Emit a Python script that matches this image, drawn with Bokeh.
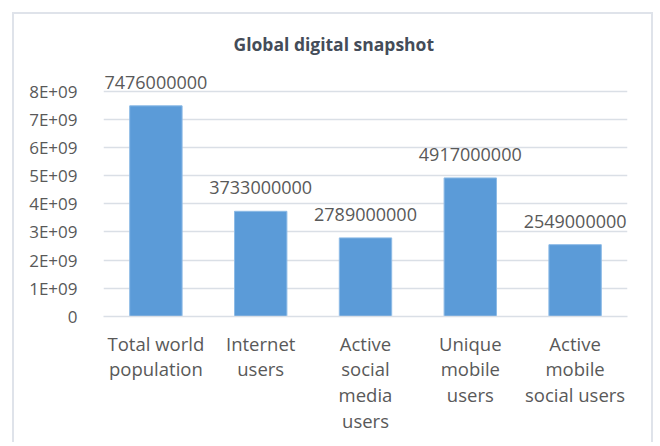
from bokeh.plotting import figure
from bokeh.models import ColumnDataSource, FactorRange, FixedTicker, LabelSet, Title
from bokeh.core.properties import value
from bokeh.embed import file_html
from bokeh.resources import INLINE

# ---- data ----
categories = ["Total world\npopulation", "Internet\nusers", "Active\nsocial\nmedia\nusers",
              "Unique\nmobile\nusers", "Active\nmobile\nsocial users"]
values = [7476000000, 3733000000, 2789000000, 4917000000, 2549000000]
value_labels = [str(v) for v in values]
y_ticks = [0, 1000000000, 2000000000, 3000000000, 4000000000,
           5000000000, 6000000000, 7000000000, 8000000000]
y_tick_labels = ["0", "1E+09", "2E+09", "3E+09", "4E+09", "5E+09", "6E+09", "7E+09", "8E+09"]
title_text = "Global digital snapshot"

FONT = "Open Sans"
TXT = "#595959"
GRID = "#dadfe6"

src = ColumnDataSource(dict(cat=categories, val=values, lab=value_labels))

p = figure(width=641, height=430, output_backend="svg", toolbar_location=None,
           x_range=FactorRange(*categories, range_padding=0), y_range=(0, 8800000000),
           min_border_left=89, min_border_right=28, min_border_top=54, min_border_bottom=128)
p.styles = {"margin-left": "12px", "margin-top": "12px",
            "border": "2px solid #dfe3ea", "border-bottom": "none"}

p.vbar(x="cat", top="val", width=0.5, source=src,
       fill_color="#5b9bd8", line_color="#8dbbe6", line_width=1)

labels = LabelSet(x="cat", y="val", text="lab", source=src, text_align="center",
                  text_baseline="alphabetic", y_offset=17, text_font=value(FONT),
                  text_font_size="18px", text_color=TXT)
p.add_layout(labels)

t = Title(text=title_text, align="left", text_font=FONT, text_font_size="17.5px",
          text_font_style="bold", text_color="#444c58", standoff=25, offset=130)
p.add_layout(t, "above")

p.outline_line_color = None
p.background_fill_color = "white"
p.border_fill_color = "white"

p.xgrid.grid_line_color = None
p.ygrid.grid_line_color = GRID
p.ygrid.grid_line_width = 1.5

p.yaxis.ticker = FixedTicker(ticks=y_ticks)
p.yaxis.major_label_overrides = {t_: l_ for t_, l_ in zip(y_ticks, y_tick_labels)}
p.yaxis.axis_line_color = None
p.yaxis.major_tick_line_color = None
p.yaxis.minor_tick_line_color = None
p.yaxis.major_label_standoff = 20
p.yaxis.major_label_text_font = FONT
p.yaxis.major_label_text_font_size = "17px"
p.yaxis.major_label_text_color = TXT

p.xaxis.axis_line_color = GRID
p.xaxis.axis_line_width = 1.5
p.xaxis.major_tick_line_color = None
p.xaxis.minor_tick_line_color = None
p.xaxis.major_label_standoff = 8
p.xaxis.major_label_text_font = FONT
p.xaxis.major_label_text_font_size = "18.5px"
p.xaxis.major_label_text_color = TXT
p.xaxis.major_label_text_line_height = 1.03

open("out.html", "w").write(file_html(p, INLINE))
